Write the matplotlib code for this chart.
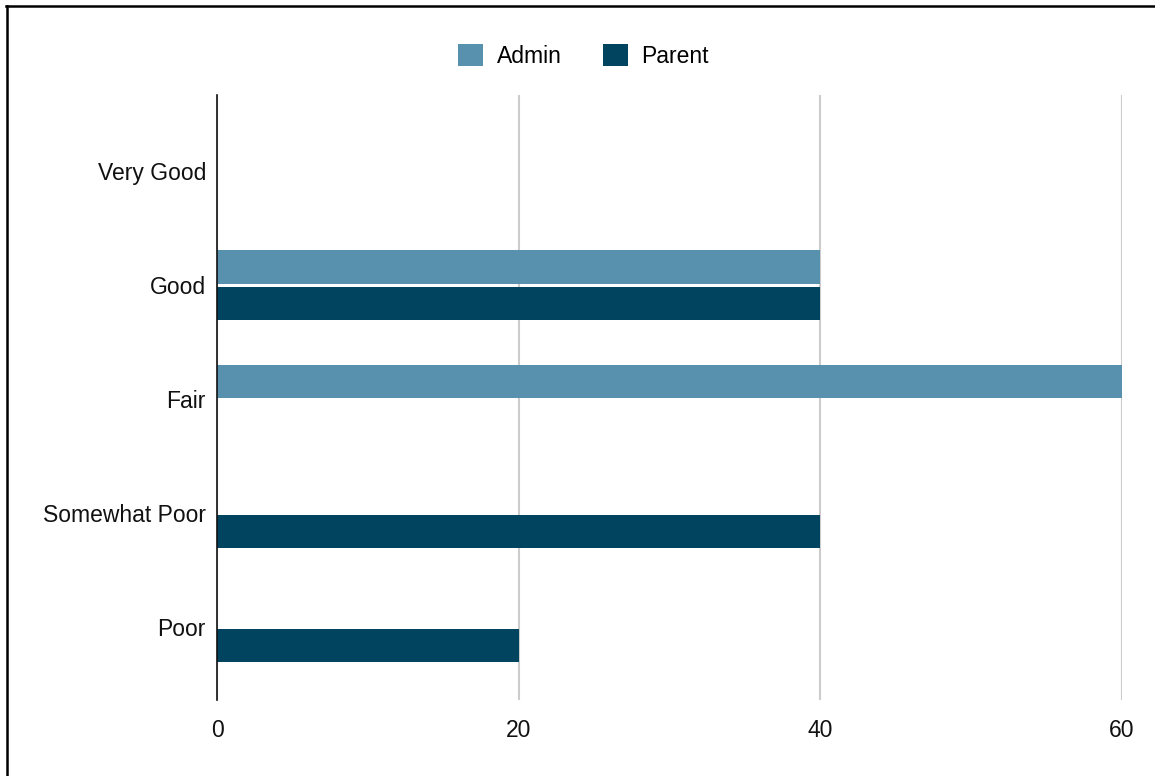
import numpy as np
import matplotlib
matplotlib.use("Agg")
import matplotlib.pyplot as plt
from matplotlib.lines import Line2D
from matplotlib.patches import Patch

categories = ["Very Good", "Good", "Fair", "Somewhat Poor", "Poor"]
admin = [0, 40, 60, 0, 0]
parent = [0, 40, 0, 40, 20]
xticks = [0, 20, 40, 60]

admin_color = "#5891ad"
parent_color = "#01445f"

plt.rcParams['font.family'] = ['Liberation Sans', 'DejaVu Sans']

fig = plt.figure(figsize=(11.55, 7.76), dpi=100)
ax = fig.add_axes([0.1879, 0.0979, 0.9714 - 0.1879, 0.8776 - 0.0979])

y = np.arange(len(categories))
h = 0.29
ax.barh(y - 0.158, admin, height=h, color=admin_color, label="Admin", zorder=3)
ax.barh(y + 0.158, parent, height=h, color=parent_color, label="Parent", zorder=3)

ax.set_xlim(0, 60)
ax.set_ylim(4.64, -0.667)
ax.set_xticks(xticks)
ax.set_xticklabels([str(t) for t in xticks], fontsize=16.5, color="#111111")
ax.set_yticks(y)
ax.set_yticklabels(categories, fontsize=16.5, color="#111111")
ax.tick_params(axis="y", length=0, pad=8)
ax.tick_params(axis="x", length=0, pad=14)
ax.grid(axis="x", color="#cccccc", linewidth=1.5, zorder=0)
for s in ["top", "right", "bottom"]:
    ax.spines[s].set_visible(False)
ax.spines["left"].set_color("#111111")
ax.spines["left"].set_linewidth(1.2)
ax.spines["left"].set_zorder(4)

handles = [Patch(facecolor=admin_color, label="Admin"),
           Patch(facecolor=parent_color, label="Parent")]
fig.legend(handles=handles, loc="center", bbox_to_anchor=(0.505, 0.928),
           ncol=2, frameon=False, fontsize=16.5, handlelength=1.1,
           handleheight=1.1, handletextpad=0.6, columnspacing=1.8)

# frame lines along the top and left edge
fig.add_artist(Line2D([6 / 1155, 1.0], [1 - 6 / 776, 1 - 6 / 776],
                      transform=fig.transFigure, color="black", linewidth=1.8))
fig.add_artist(Line2D([7 / 1155, 7 / 1155], [0, 1 - 6 / 776],
                      transform=fig.transFigure, color="black", linewidth=1.8))

fig.savefig("out.png", dpi=100)
